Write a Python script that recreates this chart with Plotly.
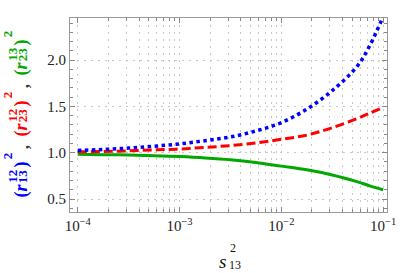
import plotly.graph_objects as go

# ---- data ----
s13_sq = [1e-4, 1.78e-4, 3.16e-4, 5.62e-4, 1e-3, 1.78e-3, 3.16e-3, 5.62e-3,
          1e-2, 1.78e-2, 3.16e-2, 5.62e-2, 7.5e-2, 1e-1]
r13_12_sq = [1.025, 1.035, 1.05, 1.07, 1.095, 1.13, 1.17, 1.235, 1.325, 1.47, 1.67, 1.94, 2.17, 2.47]
r23_12_sq = [1.01, 1.013, 1.02, 1.03, 1.04, 1.057, 1.077, 1.105, 1.145, 1.19, 1.27, 1.37, 1.43, 1.49]
r23_13_sq = [0.982, 0.979, 0.975, 0.968, 0.958, 0.944, 0.925, 0.895, 0.855, 0.815, 0.76, 0.685, 0.64, 0.60]

x_tickvals = [1e-4, 1e-3, 1e-2, 1e-1]
x_ticktext = ["10<sup>−4</sup>", "10<sup>−3</sup>", "10<sup>−2</sup>", "10<sup>−1</sup>"]
y_tickvals = [0.5, 1.0, 1.5, 2.0]
y_ticktext = ["0.5", "1.0", "1.5", "2.0"]

BLUE = "#0000ff"
RED = "#ff0000"
GREEN = "#00a800"
FONT = "Liberation Serif, Times New Roman, serif"
GRID = "#c8c8c8"
GDASH = "2px,5px"

W, H = 407, 273
L, R, T, B = 70, 11, 18, 61
PW, PH = W - L - R, H - T - B

fig = go.Figure()
fig.add_trace(go.Scatter(x=s13_sq, y=r23_13_sq, mode="lines",
                         line=dict(color=GREEN, width=3, shape="spline"), showlegend=False))
fig.add_trace(go.Scatter(x=s13_sq, y=r23_12_sq, mode="lines",
                         line=dict(color=RED, width=3, dash="9px,4px", shape="spline"), showlegend=False))
fig.add_trace(go.Scatter(x=s13_sq, y=r13_12_sq, mode="lines",
                         line=dict(color=BLUE, width=3.5, dash="dot", shape="spline"), showlegend=False))

minor_x = [k * 10 ** d for d in (-4, -3, -2) for k in range(2, 10)]

fig.update_xaxes(type="log", range=[-4.076, -0.962],
                 tickvals=x_tickvals, ticktext=x_ticktext,
                 ticks="inside", ticklen=5, tickcolor="#888",
                 showline=True, linecolor="#999", linewidth=1, mirror="ticks",
                 showgrid=True, gridcolor=GRID, griddash=GDASH, gridwidth=1,
                 zeroline=False,
                 tickfont=dict(family=FONT, size=15, color="#222"),
                 minor=dict(tickvals=minor_x, ticks="inside", ticklen=3, tickcolor="#888",
                            showgrid=True, gridcolor=GRID, griddash=GDASH, gridwidth=1))
fig.update_yaxes(range=[0.36, 2.454],
                 tickvals=y_tickvals, ticktext=y_ticktext,
                 ticks="inside", ticklen=5, tickcolor="#888",
                 showline=True, linecolor="#999", linewidth=1, mirror="ticks",
                 showgrid=True, gridcolor=GRID, griddash=GDASH, gridwidth=1,
                 zeroline=False,
                 tickfont=dict(family=FONT, size=15, color="#222"),
                 minor=dict(dtick=0.1, ticks="inside", ticklen=3, tickcolor="#888", showgrid=False))


def px2paper(px, py):
    return (px - L) / PW, (H - B - py) / PH


annotations = []


def add(text, color, px, py, size, angle=-90, xanchor="center"):
    x, y = px2paper(px, py)
    annotations.append(dict(text=text, x=x, y=y, xref="paper", yref="paper",
                            showarrow=False, textangle=angle, xanchor=xanchor, yanchor="middle",
                            font=dict(family=FONT, size=size, color=color)))


# y-axis label pieces: (sup, sub, color, y-offset)
groups = [("12", "13", BLUE, 0), ("12", "23", RED, -61), ("13", "23", GREEN, -122)]
for sup, sub, col, dy in groups:
    add("<b>(<i>r</i></b>", col, 20, 190 + dy, 18)
    add("<b>" + sup + "</b>", col, 10, 176 + dy, 13)
    add("<b>" + sub + "</b>", col, 21, 176 + dy, 13)
    add("<b>)</b>", col, 20, 164 + dy, 18)
    add("<b>2</b>", col, 5.5, 156 + dy, 13)
add("<b>,</b>", "#333", 22, 147, 17)
add("<b>,</b>", "#333", 22, 86, 17)

# x-axis label
add("<i>s</i>", "#111", 227, 261, 19, angle=0)
add("2", "#111", 232, 248, 12, angle=0, xanchor="left")
add("13", "#111", 231, 265, 12, angle=0, xanchor="left")

fig.update_layout(width=W, height=H, margin=dict(l=L, r=R, t=T, b=B, pad=0),
                  plot_bgcolor="white", paper_bgcolor="white",
                  annotations=annotations)

fig.write_html("out.html", config={"displayModeBar": False},
               post_script="document.body.style.margin='0';")
